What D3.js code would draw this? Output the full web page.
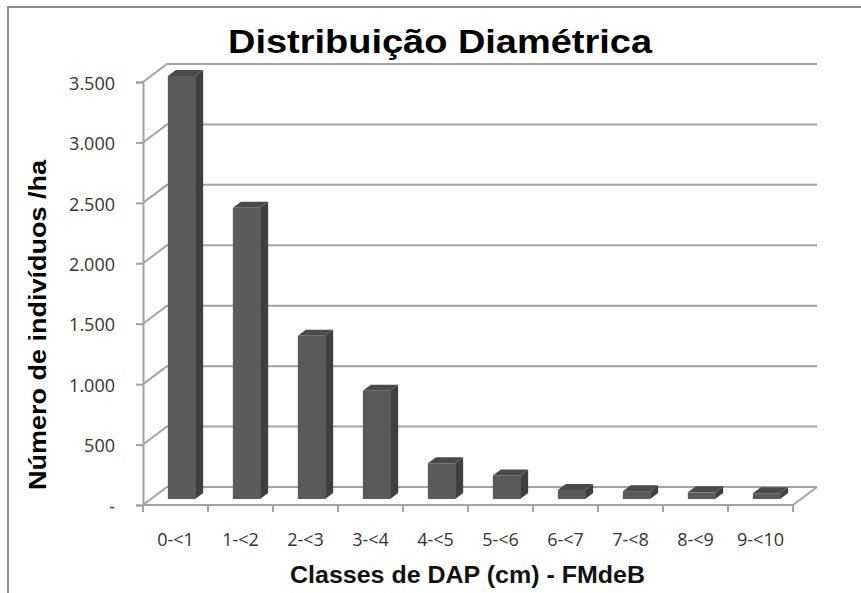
<!DOCTYPE html>
<html><head><meta charset="utf-8">
<script src="https://cdn.jsdelivr.net/npm/d3@7"></script>
<style>body{margin:0;background:#fff}svg{display:block}</style>
</head><body>
<script>
const categories = ["0-<1","1-<2","2-<3","3-<4","4-<5","5-<6","6-<7","7-<8","8-<9","9-<10"];
const values = [3500, 2410, 1350, 895, 295, 195, 75, 65, 55, 48];
const yTicks = [0, 500, 1000, 1500, 2000, 2500, 3000, 3500];
const titleText = "Distribuição Diamétrica";
const yTitle = "Número de indivíduos /ha";
const xTitle = "Classes de DAP (cm) - FMdeB";

const W = 861, H = 593;
const svg = d3.select("body").append("svg").attr("width", W).attr("height", H);

// frame
svg.append("rect").attr("x", 8).attr("y", 7).attr("width", 900).attr("height", 700)
  .attr("fill", "none").attr("stroke", "#8c8c8c").attr("stroke-width", 2);

const x0 = 143, x1 = 793, yBase = 505, DX = 24, DY = 18;
const x = d3.scaleBand().domain(categories).range([x0, x1]).padding(0);
const yFront = d3.scaleLinear().domain([0, 3500]).range([yBase, yBase - 423]);
const P = (px, v, z) => [px + z * DX, yFront(v) - z * DY];

const grid = svg.append("g").attr("stroke", "#a3a3a3").attr("stroke-width", 2).attr("fill", "none");
yTicks.forEach(t => {
  const a = P(x0, t, 0), b = P(x0, t, 1), c = P(x1, t, 1);
  grid.append("path").attr("d", `M${a[0]},${a[1]}L${b[0]},${b[1]}L${c[0]},${c[1]}`);
});
{
  const a = P(x1, 0, 0), b = P(x1, 0, 1);
  grid.append("path").attr("d", `M${a[0]},${a[1]}L${b[0]},${b[1]}`);
}

// y axis
const loc = d3.formatLocale({decimal: ",", thousands: ".", grouping: [3], currency: ["", ""]});
const fmt = loc.format(",d");
const yAxis = d3.axisLeft(yFront).tickValues(yTicks).tickSize(7).tickPadding(21)
  .tickFormat(d => d === 0 ? "-" : fmt(d));
const gy = svg.append("g").attr("transform", `translate(${x0},0)`).call(yAxis);
gy.select(".domain").attr("stroke", "#a3a3a3").attr("stroke-width", 2);
gy.selectAll(".tick line").attr("stroke", "#a3a3a3").attr("stroke-width", 2);
gy.selectAll(".tick text").attr("font-family", "Open Sans").attr("font-size", 18).attr("fill", "#333")
  .attr("dy", "0.4em");

// x axis
const xAxis = d3.axisBottom(x).tickSize(0).tickPadding(33);
const gx = svg.append("g").attr("transform", `translate(0,${yBase})`).call(xAxis);
gx.select(".domain").remove();
gx.selectAll(".tick text").attr("font-family", "Open Sans").attr("font-size", 18).attr("fill", "#333")
  .attr("dy", "0.42em");
const edges = categories.map(c => x(c)).concat([x1]);
svg.append("path").attr("stroke", "#a3a3a3").attr("stroke-width", 2).attr("fill", "none")
  .attr("d", `M${x0},${yBase}L${x1},${yBase}`);
svg.append("g").selectAll("line").data(edges).join("line")
  .attr("x1", d => d).attr("x2", d => d).attr("y1", yBase).attr("y2", yBase + 7)
  .attr("stroke", "#a3a3a3").attr("stroke-width", 2);

// bars
const bw = x.bandwidth() * 0.42;
const z0 = 1/3, z1 = 2/3;
const bars = svg.append("g");
const poly = pts => "M" + pts.map(p => p.join(",")).join("L") + "Z";
categories.forEach((c, i) => {
  const v = values[i];
  const left = x(c) + (x.bandwidth() - bw) / 2 - 2, right = left + bw;
  const f = [P(left, 0, z0), P(right, 0, z0), P(right, v, z0), P(left, v, z0)];
  const s = [P(right, 0, z0), P(right, 0, z1), P(right, v, z1), P(right, v, z0)];
  const t = [P(left, v, z0), P(right, v, z0), P(right, v, z1), P(left, v, z1)];
  bars.append("path").attr("d", poly(s)).attr("fill", "#3f3f3f");
  bars.append("path").attr("d", poly(t)).attr("fill", "#4a4a4a");
  bars.append("path").attr("d", poly(f)).attr("fill", "#5a5a5a");
});

// titles
svg.append("text").attr("x", 440).attr("y", 53).attr("text-anchor", "middle")
  .attr("font-family", "Liberation Sans").attr("font-weight", "bold").attr("font-size", 33.5)
  .attr("textLength", 424).attr("lengthAdjust", "spacingAndGlyphs")
  .text(titleText);
svg.append("text").attr("transform", "translate(46,325) rotate(-90)").attr("text-anchor", "middle")
  .attr("font-family", "Liberation Sans").attr("font-weight", "bold").attr("font-size", 24)
  .attr("textLength", 330).attr("lengthAdjust", "spacingAndGlyphs")
  .text(yTitle);
svg.append("text").attr("x", 467.5).attr("y", 583).attr("text-anchor", "middle")
  .attr("font-family", "Liberation Sans").attr("font-weight", "bold").attr("font-size", 23)
  .attr("textLength", 355).attr("lengthAdjust", "spacingAndGlyphs")
  .attr("fill", "#111")
  .text(xTitle);
</script>
</body></html>
